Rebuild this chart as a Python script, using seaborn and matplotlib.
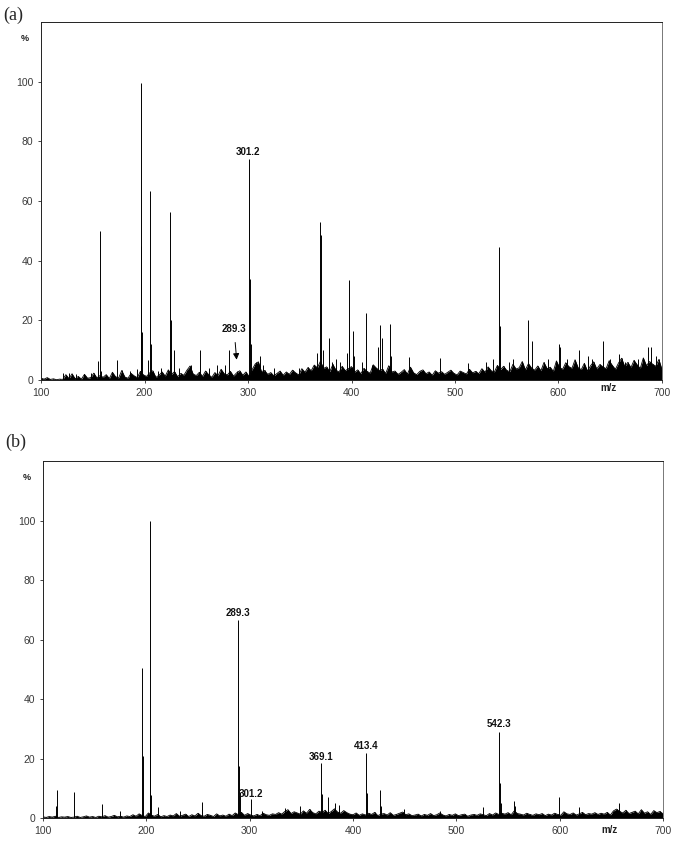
import numpy as np
import pandas as pd
import seaborn as sns
import matplotlib.pyplot as plt
from matplotlib.transforms import blended_transform_factory

# baseline "grass", one value every 3 m/z units from 100 to 700
noise_mz = np.arange(100, 701, 3)

noise_a = [
    0.6, 0.3, 0.8, 0.2, 0.4, 0.1, 0.3, 0.2, 1.8, 0.5,
    2.1, 0.4, 1.2, 0.3, 1.9, 0.6, 0.8, 2.3, 0.7, 1.5,
    0.9, 1.8, 0.5, 2.6, 1.1, 0.7, 3.2, 1.0, 0.6, 2.2,
    1.4, 0.8, 2.9, 1.7, 1.2, 2.4, 3.1, 0.9, 1.6, 2.7,
    1.3, 3.4, 1.9, 2.8, 1.1, 2.2, 1.6, 3.3, 4.7, 2.0,
    1.5, 2.6, 1.2, 3.0, 1.8, 0.9, 2.5, 1.4, 3.6, 2.1,
    1.7, 2.9, 1.3, 2.4, 3.1, 1.6, 2.7, 1.2, 3.5, 5.4,
    6.1, 2.8, 3.2, 1.9, 2.5, 1.4, 2.2, 3.0, 1.6, 2.7,
    1.9, 3.3, 2.4, 1.7, 3.8, 2.6, 4.2, 3.1, 5.0, 4.1,
    6.3, 3.9, 4.4, 2.8, 5.2, 3.3, 2.7, 4.6, 3.1, 3.8,
    4.5, 2.6, 3.4, 2.1, 3.9, 2.9, 2.3, 5.1, 4.0, 3.2,
    3.6, 2.2, 4.8, 2.7, 3.0, 1.9, 2.6, 3.5, 2.0, 4.3,
    2.4, 1.8, 2.9, 3.4, 2.1, 2.7, 1.6, 3.1, 2.3, 2.8,
    1.9, 2.6, 3.3, 2.2, 1.7, 3.0, 2.5, 2.0, 3.6, 2.4,
    2.9, 2.1, 3.8, 2.6, 4.4, 3.1, 2.7, 4.9, 3.5, 4.6,
    3.2, 2.8, 5.3, 3.7, 4.1, 6.2, 3.4, 5.5, 4.0, 3.3,
    4.7, 3.1, 5.9, 3.8, 4.3, 2.9, 6.4, 4.2, 3.6, 5.8,
    4.5, 3.9, 6.8, 4.1, 3.5, 5.6, 3.0, 4.8, 6.1, 3.7,
    5.2, 4.4, 3.8, 6.5, 4.9, 3.6, 5.7, 7.3, 4.5, 5.9,
    4.2, 6.6, 5.1, 3.9, 7.4, 4.8, 6.2, 5.3, 4.6, 6.9,
    3.5,
]

noise_b = [
    0.4, 0.2, 0.5, 0.3, 0.6, 0.2, 0.4, 0.3, 0.5, 0.2,
    0.3, 0.6, 0.2, 0.4, 0.7, 0.3, 0.5, 0.2, 0.6, 0.4,
    0.8, 0.3, 0.5, 0.9, 0.4, 0.6, 0.3, 0.7, 0.5, 1.1,
    0.6, 1.4, 0.8, 0.5, 1.7, 0.9, 0.6, 1.2, 0.4, 0.8,
    0.5, 1.0, 0.7, 1.5, 0.6, 0.9, 1.3, 0.5, 1.1, 0.7,
    1.6, 0.8, 0.6, 1.2, 0.9, 0.5, 1.4, 0.7, 1.0, 0.6,
    1.3, 0.8, 1.7, 1.1, 1.9, 0.9, 1.5, 1.0, 0.7, 1.2,
    0.8, 1.6, 1.1, 0.9, 1.4, 1.2, 1.8, 1.3, 2.2, 2.8,
    1.5, 2.1, 1.7, 1.3, 2.4, 1.6, 2.9, 1.8, 1.4, 2.3,
    1.9, 2.6, 1.5, 2.2, 3.1, 2.0, 1.6, 2.5, 1.8, 1.3,
    1.1, 1.7, 0.9, 1.4, 1.0, 1.6, 1.2, 1.9, 0.8, 1.3,
    1.5, 1.0, 1.8, 0.9, 1.2, 1.6, 2.0, 1.1, 1.4, 0.8,
    1.0, 1.3, 0.7, 1.2, 0.9, 1.5, 0.8, 1.1, 1.7, 1.0,
    0.7, 1.2, 0.9, 1.4, 0.8, 1.1, 1.3, 0.6, 1.0, 1.2,
    0.9, 1.4, 1.1, 0.8, 1.5, 1.0, 1.7, 1.2, 1.6, 1.3,
    1.8, 1.1, 2.4, 1.5, 1.3, 1.0, 1.6, 1.2, 0.9, 1.4,
    1.1, 1.5, 0.8, 1.3, 1.0, 1.6, 1.2, 0.9, 2.1, 1.4,
    1.2, 1.7, 1.0, 1.4, 1.9, 1.1, 1.5, 1.3, 1.8, 1.2,
    1.6, 1.3, 1.9, 1.0, 2.4, 3.0, 2.2, 1.7, 2.6, 1.5,
    1.9, 2.3, 1.4, 2.8, 1.6, 2.1, 1.2, 2.5, 1.8, 2.2,
    1.4,
]

# peaks (m/z, relative intensity %)
peaks_a_mz = [121, 127, 134, 142, 148, 155.5, 157, 158, 173.7, 186, 193,
              196.3, 197, 198, 203.7, 205.3, 206, 213, 216, 224.6, 225.2, 228,
              233, 245, 253.6, 262, 270, 278, 281.9, 289, 301.3, 301.8, 302.5,
              308, 311.6, 314, 325, 349, 367, 369.6, 370.2, 372, 378, 381, 385,
              389, 396, 397.3, 397.9, 401.2, 402, 410, 413.7, 414.4, 420, 426,
              427.5, 429.1, 437.2, 438, 455.2, 485.2, 512.9, 530, 537, 542.5,
              543.2, 552, 556, 565, 570.5, 574.4, 590, 600.2, 601.8, 608, 619.8,
              628.2, 632.7, 643.3, 650, 658.5, 664, 676.8, 686.5, 689.4, 694]
peaks_a_int = [2.5, 2.5, 2, 2, 2.5, 6.4, 50, 3, 6.7, 3, 3.7,
               99.5, 45, 16, 6.7, 63.3, 12, 3, 4, 56.3, 20, 10,
               4, 5, 10, 4, 5, 5, 10, 3, 74, 34, 12,
               6, 8, 5, 4, 4, 9, 53, 48.5, 10, 14, 6, 7,
               6, 9, 33.4, 15, 16.5, 8, 6, 22.6, 8, 5, 11,
               18.6, 14, 18.7, 8, 7.8, 7.3, 5.8, 6, 7, 44.6,
               18, 6, 7, 6, 20, 13, 7, 12, 11, 7, 10,
               8, 7, 13, 7, 8.7, 6, 7, 11, 11, 8]

peaks_b_mz = [112.8, 113.5, 130, 157, 174.5, 196, 196.6, 203.2, 203.7, 204.5,
              211, 232.5, 253.5, 254, 288.9, 289.5, 290.3, 300.9, 312, 334,
              348.5, 368.9, 369.5, 375.3, 383, 386.6, 412.7, 413.3, 426.2, 427,
              449.4, 484, 525.8, 541.3, 541.9, 543, 555.8, 557, 599, 618.4, 657]
peaks_b_int = [4, 9.4, 8.7, 4.7, 2.5, 50.4, 21, 100, 26.5, 7.7,
               3.6, 2.5, 5.3, 3, 66.4, 17.6, 8.9, 6.3, 2.5, 3.3,
               4, 18.6, 8, 7.2, 5, 4.4, 21.8, 8.3, 9.4, 4,
               3, 2.4, 3.8, 29, 11.7, 5, 5.8, 4, 7, 3.8, 5]

# peak labels (text, x, y)
labels_a = [("301.2", 300.0, 76.4)]
labels_b = [("289.3", 288.9, 69.0), ("301.2", 301.5, 8.1), ("369.1", 368.9, 20.4),
            ("413.4", 412.7, 24.2), ("542.3", 541.3, 31.6)]

x_ticks = [100, 200, 300, 400, 500, 600, 700]
y_ticks = [0, 20, 40, 60, 80, 100]

sns.set_theme(style="ticks")
plt.rcParams["font.family"] = ["Liberation Sans", "DejaVu Sans"]

fig = plt.figure(figsize=(6.85, 8.49), dpi=100)
ax_a = fig.add_axes([0.0599, 0.5524, 0.9065, 0.4217])
ax_b = fig.add_axes([0.0628, 0.0365, 0.9052, 0.4205])


def draw_spectrum(ax, noise, pk_mz, pk_int, labels, mz_text_y):
    df = pd.DataFrame({"mz": noise_mz, "intensity": noise})
    # dense jagged baseline: filled profile, outline and a stick per point
    ax.fill_between(df["mz"], 0, df["intensity"], color="black", linewidth=0)
    sns.lineplot(data=df, x="mz", y="intensity", ax=ax, color="black",
                 linewidth=0.6, estimator=None)
    ax.vlines(df["mz"], 0, df["intensity"], color="black", linewidth=0.6)
    ax.vlines(pk_mz, 0, pk_int, color="black", linewidth=0.7)
    for txt, x, y in labels:
        ax.text(x, y, txt, ha="center", va="center", fontsize=7,
                fontweight="bold", color="#111111")
    ax.set_xlim(100, 700)
    ax.set_ylim(0, 120)
    ax.set_xticks(x_ticks)
    ax.set_yticks(y_ticks)
    ax.set_xlabel("")
    ax.set_ylabel("")
    ax.tick_params(axis="both", labelsize=7.5, labelcolor="#3a3a3a",
                   length=2.5, width=0.6, pad=3, direction="out")
    for side in ["top", "right", "left", "bottom"]:
        ax.spines[side].set_visible(True)
        ax.spines[side].set_linewidth(0.7)
        ax.spines[side].set_color("#222222")
    ax.spines["right"].set_color("#777777")
    ax.text(-0.026, 0.953, "%", transform=ax.transAxes, ha="center",
            va="center", fontsize=6.5, fontweight="bold", color="#222222")
    trans = blended_transform_factory(ax.transData, ax.transAxes)
    ax.text(648, mz_text_y, "m/z", transform=trans, ha="center", va="center",
            fontsize=7, fontweight="bold", color="#222222")


draw_spectrum(ax_a, noise_a, peaks_a_mz, peaks_a_int, labels_a, -0.022)
draw_spectrum(ax_b, noise_b, peaks_b_mz, peaks_b_int, labels_b, -0.034)

# arrow marking the weak 289.3 ion in (a)
ax_a.annotate("289.3", xy=(289, 6.8), xytext=(286.5, 17.2),
              ha="center", va="center", fontsize=7, fontweight="bold",
              color="#111111",
              arrowprops=dict(arrowstyle="-|>", color="black", lw=0.7,
                              mutation_scale=9, shrinkA=4, shrinkB=0))

fig.text(0.019, 0.982, "(a)", family="Liberation Serif", fontsize=13,
         ha="center", va="center")
fig.text(0.023, 0.479, "(b)", family="Liberation Serif", fontsize=13,
         ha="center", va="center")

plt.savefig("out.png", dpi=100)
